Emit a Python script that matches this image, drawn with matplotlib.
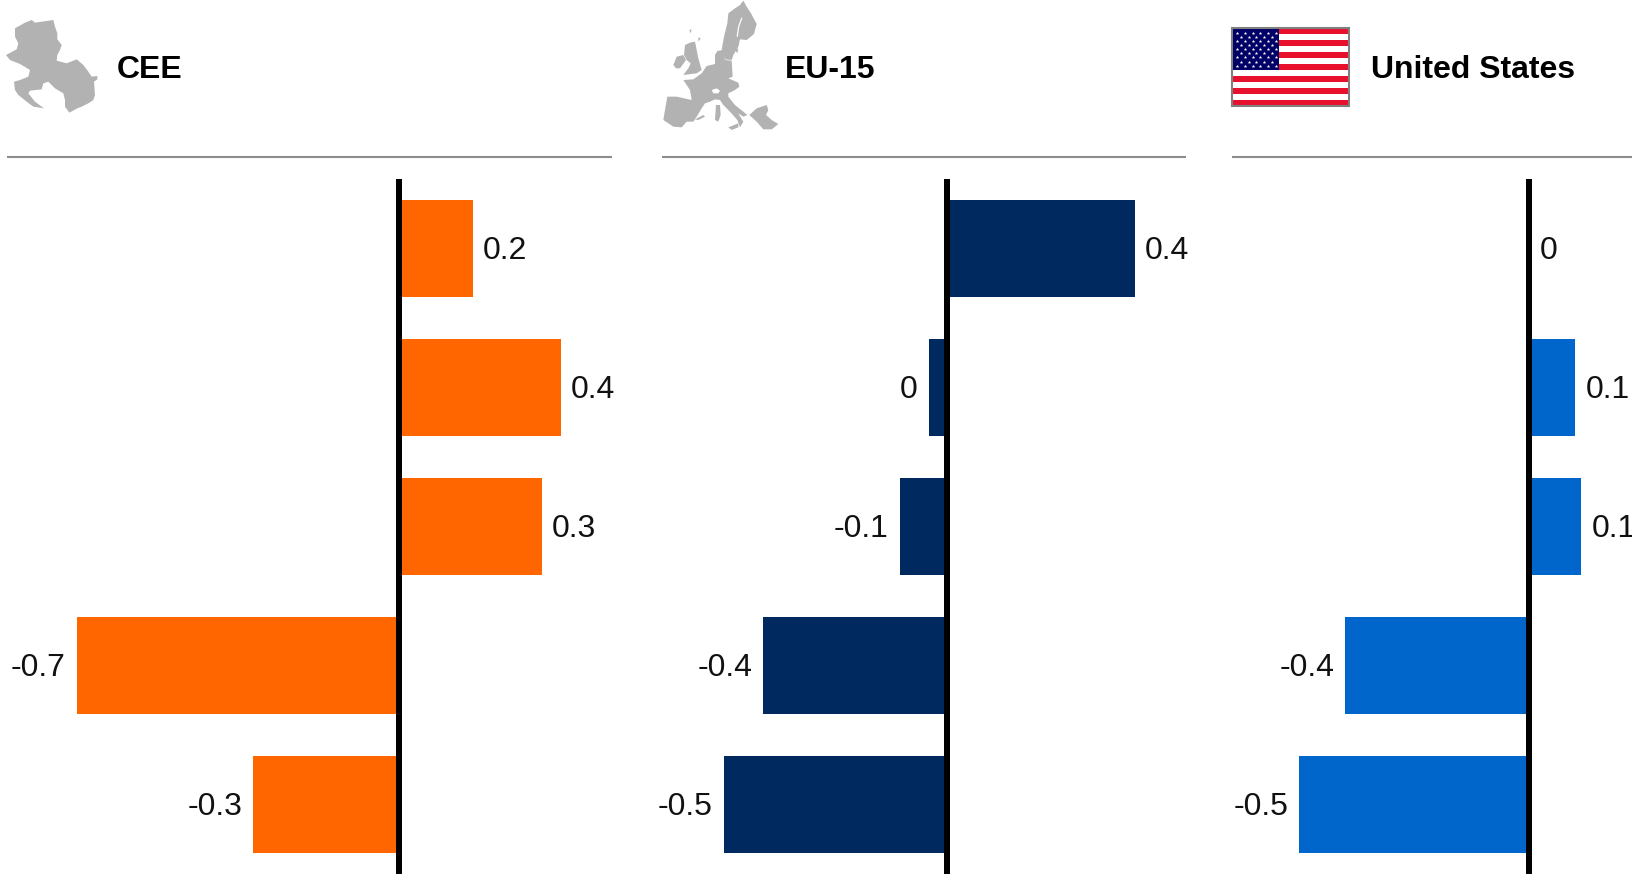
import numpy as np
import matplotlib
matplotlib.use('Agg')
import matplotlib.pyplot as plt
from matplotlib.patches import Polygon, Rectangle

plt.rcParams['font.family'] = ['Liberation Sans', 'DejaVu Sans']

W, H = 1633, 877

# Data
cee_values = [0.16, 0.352, 0.31, -0.70, -0.317]
cee_labels = ['0.2', '0.4', '0.3', '-0.7', '-0.3']
eu_values = [0.408, -0.04, -0.104, -0.40, -0.486]
eu_labels = ['0.4', '0', '-0.1', '-0.4', '-0.5']
us_values = [0.0, 0.10, 0.113, -0.40, -0.50]
us_labels = ['0', '0.1', '0.1', '-0.4', '-0.5']

titles = ['CEE', 'EU-15', 'United States']
colors = ['#FF6600', '#002960', '#0066CC']

PX_PER_UNIT = 460
# left edge, zero line, right edge of each panel in pixels
panels = [(7, 399, 612), (662, 947.5, 1186), (1232.5, 1529.5, 1633)]
title_x = [116.5, 785, 1371.5]
AX_TOP, AX_BOTTOM = 179, 874

cee_map = [(45, 85), (75, 68), (95, 60), (105, 68), (160, 60), (165, 80), (172, 100), (172, 118),
           (185, 135), (180, 150), (172, 165), (170, 182), (200, 190), (230, 178), (250, 195),
           (265, 215), (275, 230), (292, 228), (292, 238), (282, 245), (285, 285), (280, 300),
           (265, 310), (245, 320), (232, 325), (208, 338), (195, 320), (195, 300), (190, 280),
           (165, 265), (145, 245), (130, 250), (125, 268), (90, 272), (85, 280), (105, 305),
           (132, 325), (100, 320), (80, 305), (55, 285), (45, 270), (42, 245), (60, 240),
           (85, 230), (90, 210), (60, 192), (30, 180), (18, 165), (50, 148), (55, 130), (45, 110)]
# Scandinavia and small islands, 3x crop from (650, 0)
eu_north = [
    [(280, 2), (290, 20), (303, 40), (320, 72), (312, 102), (290, 120), (270, 118), (265, 140),
     (250, 165), (245, 180), (225, 178), (215, 150), (222, 110), (232, 70), (235, 40), (255, 25),
     (270, 15)],
    [(118, 90), (125, 88), (122, 100)],
    [(145, 112), (152, 115), (145, 125)],
    [(255, 150), (265, 145), (262, 160)],
]
eu_gaps = [
    [(275, 55), (266, 80), (262, 108)],
]
# Continent and the rest, 3x crop from (660, 40)
eu_south = [
    [(165, 45), (172, 33), (188, 30), (195, 60), (215, 62), (218, 110), (205, 115), (235, 128),
     (238, 140), (225, 150), (205, 160), (205, 170), (225, 195), (250, 215), (262, 225), (250, 230),
     (235, 220), (250, 245), (240, 262), (232, 240), (210, 215), (190, 195), (180, 180), (165, 178),
     (150, 185), (135, 190), (125, 205), (110, 230), (100, 245), (80, 245), (65, 262), (40, 260),
     (10, 240), (15, 210), (22, 170), (50, 170), (95, 180), (90, 150), (70, 120), (100, 118),
     (125, 100), (140, 78), (165, 72)],
    [(75, 15), (90, 8), (105, 5), (110, 30), (115, 55), (125, 90), (110, 100), (70, 105), (85, 85),
     (92, 70), (80, 60), (72, 45)],
    [(40, 75), (50, 50), (70, 45), (78, 60), (60, 85), (48, 85)],
    [(168, 195), (180, 195), (182, 225), (175, 245), (165, 240)],
    [(205, 262), (235, 250), (235, 262), (215, 270)],
    [(268, 225), (290, 205), (320, 195), (325, 210), (318, 225), (335, 240), (355, 252), (335, 268),
     (310, 268), (290, 245)],
    [(105, 238), (130, 225), (135, 230), (115, 240)],
]
eu_hole = [(155, 150), (170, 145), (180, 152), (175, 160), (160, 160)]

fig = plt.figure(figsize=(W / 100, H / 100), dpi=100, facecolor='white')

# Bars
all_values = [cee_values, eu_values, us_values]
all_labels = [cee_labels, eu_labels, us_labels]
for (x0, zero, x1), values, labels, color in zip(panels, all_values, all_labels, colors):
    ax = fig.add_axes([x0 / W, 1 - AX_BOTTOM / H, (x1 - x0) / W, (AX_BOTTOM - AX_TOP) / H])
    ax.set_xlim((x0 - zero) / PX_PER_UNIT, (x1 - zero) / PX_PER_UNIT)
    ax.set_ylim(4.5, -0.5)
    ax.axis('off')
    rows = np.arange(len(values))
    ax.barh(rows, values, height=0.695, color=color, linewidth=0)
    ax.axvline(0, color='black', linewidth=6 * 0.72, solid_capstyle='butt', zorder=3)
    for r, v, lab in zip(rows, values, labels):
        neg = v < 0
        ax.annotate(lab, (v, r), xytext=(-8 if neg else 7.2, -2), textcoords='offset points',
                    ha='right' if neg else 'left', va='center', fontsize=23, color='#111111',
                    annotation_clip=False)

# Header, in pixel coordinates
top = fig.add_axes([0, 0, 1, 1], zorder=5)
top.set_xlim(0, W)
top.set_ylim(H, 0)
top.axis('off')
top.patch.set_alpha(0)

for (x0, zero, x1), title, tx in zip(panels, titles, title_x):
    top.plot([x0, x1], [157, 157], color='#8C8C8C', linewidth=1.5, solid_capstyle='butt')
    top.text(tx, 69.5, title, fontsize=23, fontweight='bold', color='black', ha='left', va='center')

MAP_GREY = '#B2B2B2'
top.add_patch(Polygon(np.array(cee_map) / 3, facecolor=MAP_GREY, edgecolor='none'))
for part in eu_north:
    top.add_patch(Polygon(np.array(part) / 3 + [650, 0], facecolor=MAP_GREY, edgecolor='none'))
for part in eu_south:
    top.add_patch(Polygon(np.array(part) / 3 + [660, 40], facecolor=MAP_GREY, edgecolor='none'))
for gap in eu_gaps:
    pts = np.array(gap) / 3 + [650, 0]
    top.plot(pts[:, 0], pts[:, 1], color='white', linewidth=0.9)
top.add_patch(Polygon(np.array(eu_hole) / 3 + [660, 40], facecolor='white', edgecolor='none'))

# Flag
fx0, fx1, fy0, fy1 = 1232.8, 1348.3, 28.3, 105.7
stripe = (fy1 - fy0) / 13
top.add_patch(Rectangle((fx0, fy0), fx1 - fx0, fy1 - fy0, facecolor='white', edgecolor='none'))
for i in range(0, 13, 2):
    top.add_patch(Rectangle((fx0, fy0 + i * stripe), fx1 - fx0, stripe, facecolor='#E8112D', edgecolor='none'))
top.add_patch(Rectangle((fx0, fy0), 1279.3 - fx0, 7 * stripe, facecolor='#000066', edgecolor='none'))
star_x, star_y = [], []
for row in range(9):
    n = 6 if row % 2 == 0 else 5
    for col in range(n):
        star_x.append(1237.3 + col * 7.67 + (0 if row % 2 == 0 else 3.83))
        star_y.append(32.7 + row * 4.13)
top.scatter(star_x, star_y, s=7, marker='*', color='white', linewidths=0)
top.add_patch(Rectangle((fx0 - 0.6, fy0 - 0.6), fx1 - fx0 + 1.2, fy1 - fy0 + 1.2, fill=False,
                        edgecolor='#808080', linewidth=1.5))

fig.savefig('out.png', dpi=100, facecolor='white')
